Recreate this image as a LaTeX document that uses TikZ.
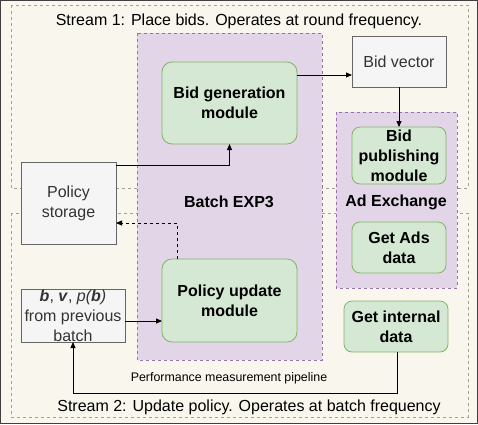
\documentclass[tikz,border=0pt]{standalone}
\usepackage{fontspec}
\setmainfont{Liberation Sans}
\usetikzlibrary{arrows.meta}
\definecolor{bgc}{HTML}{F9F7ED}
\definecolor{grfill}{HTML}{D5E8D4}
\definecolor{grline}{HTML}{82B366}
\definecolor{pufill}{HTML}{E1D5E7}
\definecolor{puline}{HTML}{9673A6}
\definecolor{gyfill}{HTML}{F5F5F5}
\definecolor{gyline}{HTML}{666666}
\definecolor{strline}{HTML}{A0A0A0}
\tikzset{
  every node/.style={inner sep=0pt, outer sep=0pt},
  streambox/.style={draw=strline, dashed, line width=0.7pt},
  purplebox/.style={draw=puline, fill=pufill, dashed, line width=0.7pt},
  greenbox/.style={draw=grline, fill=grfill, rounded corners=10pt, line width=0.8pt, align=center, font=\fontsize{16}{20}\selectfont\bfseries},
  graybox/.style={draw=gyline, fill=gyfill, line width=0.8pt, align=center, font=\fontsize{16}{20}\selectfont, text=black!80},
  conn/.style={-{Triangle[length=6pt,width=5pt]}, line width=0.8pt},
  lbl/.style={font=\fontsize{16}{20}\selectfont\bfseries},
}
\begin{document}
\begin{tikzpicture}[x=1pt,y=-1pt]
\useasboundingbox (0,0) rectangle (478,424);
\draw[fill=bgc, draw=black!75, line width=1pt] (0.5,0.5) rectangle (477.5,423.5);
% stream boxes
\draw[streambox] (11,5) rectangle (468,188);
\draw[streambox] (11,213) rectangle (468,417);
\node (s1) at (239,21) {\fontsize{16}{20}\selectfont Stream 1: Place bids. Operates at round frequency.};
\node (s2) at (249,407) {\fontsize{16}{20}\selectfont Stream 2: Update policy. Operates at batch frequency};
% purple groups
\draw[purplebox] (137,33) rectangle (322,360);
\draw[purplebox] (336,112) rectangle (457,288);
\node[lbl] (bexp) at (229,202) {Batch EXP3};
\node[lbl] (adx) at (396,202) {Ad Exchange};
% nodes
\node[greenbox, minimum width=135pt, minimum height=82pt] (bg) at (229.5,103) {Bid generation\\module};
\node[graybox, minimum width=94pt, minimum height=51pt] (bv) at (399,61.5) {Bid vector};
\node[greenbox, rounded corners=8pt, minimum width=94pt, minimum height=57pt] (bp) at (399,155.5) {Bid\\publishing\\module};
\node[graybox, minimum width=95pt, minimum height=82pt] (ps) at (68.5,203) {Policy\\storage};
\node[greenbox, rounded corners=8pt, minimum width=94pt, minimum height=51pt] (ga) at (399,247.5) {Get Ads\\data};
\node[greenbox, minimum width=135pt, minimum height=83pt] (pu) at (229.5,300.5) {Policy update\\module};
\node[graybox, minimum width=104pt, minimum height=53pt] (bb) at (73,315.5) {\textbf{\textit{b}}, \textbf{\textit{v}}, \textit{p(\textbf{b})}\\from previous\\batch};
\node[greenbox, rounded corners=8pt, minimum width=104pt, minimum height=51pt] (gi) at (396,326.5) {Get internal\\data};
\node (pm) at (229,378) {\fontsize{12.4}{14}\selectfont Performance measurement pipeline};
% connectors
\draw[conn] (bg.east |- 0,75) -- (bv.west |- 0,75);
\draw[conn] (bv.south) -- (bp.north);
\draw[conn] (ps.east |- 0,165) -| (bg.south);
\draw[conn, dashed] (pu.north -| 177,0) |- (ps.east |- 0,223);
\draw[conn] (bb.east |- 0,321) -- (pu.west |- 0,321);
\draw[conn] (gi.south -| 397,0) |- (73,393) -- (bb.south);
\end{tikzpicture}
\end{document}
